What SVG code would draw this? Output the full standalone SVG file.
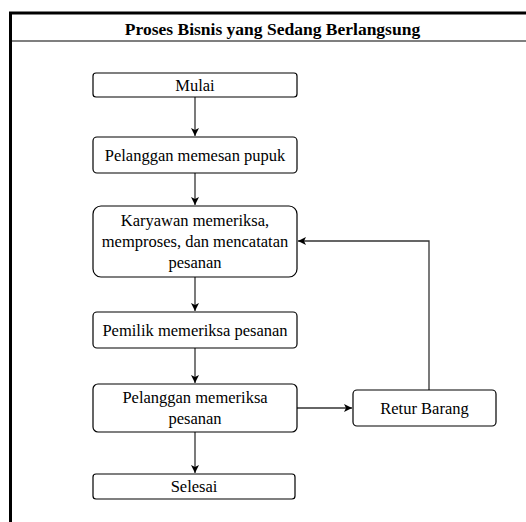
<svg xmlns="http://www.w3.org/2000/svg" width="526" height="522" viewBox="0 0 526 522">
<style>
.frame{fill:none;stroke:#000;stroke-width:3}
.div{stroke:#555;stroke-width:1.5}
.box{fill:#fff;stroke:#000;stroke-width:1.2}
.t{font-family:'Liberation Serif','DejaVu Serif',serif;font-size:16.5px;fill:#000;text-anchor:middle}
.title{font-family:'Liberation Serif','DejaVu Serif',serif;font-size:17.5px;font-weight:bold;fill:#000;text-anchor:middle}
.c{fill:none;stroke:#333;stroke-width:1.3}
</style>
<defs>
<marker id="ah" viewBox="0 0 10 10" refX="10" refY="5" markerWidth="8" markerHeight="8" markerUnits="userSpaceOnUse" orient="auto">
<path d="M0,0 L10,5 L0,10 L2.5,5 Z" fill="#000"/>
</marker>
</defs>
<rect width="526" height="522" fill="#fff"/>
<g id="frame">
<path class="frame" d="M10.5,530 V13 H540"/>
<line class="div" x1="12" y1="41" x2="526" y2="41"/>
<text class="title" x="272.5" y="35">Proses Bisnis yang Sedang Berlangsung</text>
</g>
<g id="connectors">
<line class="c" x1="195" y1="97" x2="195" y2="136" marker-end="url(#ah)"/>
<line class="c" x1="195" y1="173" x2="195" y2="205" marker-end="url(#ah)"/>
<line class="c" x1="195" y1="277" x2="195" y2="311" marker-end="url(#ah)"/>
<line class="c" x1="195" y1="348" x2="195" y2="383" marker-end="url(#ah)"/>
<line class="c" x1="195" y1="432" x2="195" y2="473" marker-end="url(#ah)"/>
<line class="c" x1="297" y1="408" x2="352" y2="408" marker-end="url(#ah)"/>
<path class="c" d="M429,390 V241 H298" marker-end="url(#ah)"/>
</g>
<g id="mulai">
<rect class="box" x="93" y="73" width="204" height="24" rx="3"/>
<text class="t" x="195" y="90.5">Mulai</text>
</g>
<g id="pesan">
<rect class="box" x="93" y="137" width="204" height="36" rx="4"/>
<text class="t" x="195" y="160.5">Pelanggan memesan pupuk</text>
</g>
<g id="karyawan">
<rect class="box" x="93" y="206" width="204" height="71" rx="8"/>
<text class="t" x="195" y="226">Karyawan memeriksa,</text>
<text class="t" x="195" y="247">memproses, dan mencatatan</text>
<text class="t" x="195" y="268">pesanan</text>
</g>
<g id="pemilik">
<rect class="box" x="93" y="312" width="204" height="36" rx="4"/>
<text class="t" x="195" y="335.5">Pemilik memeriksa pesanan</text>
</g>
<g id="periksa">
<rect class="box" x="93" y="384" width="204" height="48" rx="5"/>
<text class="t" x="195" y="403">Pelanggan memeriksa</text>
<text class="t" x="195" y="424">pesanan</text>
</g>
<g id="retur">
<rect class="box" x="353" y="390" width="143" height="36" rx="4"/>
<text class="t" x="424.5" y="413.5">Retur Barang</text>
</g>
<g id="selesai">
<rect class="box" x="93" y="474" width="202" height="25" rx="3"/>
<text class="t" x="194" y="492">Selesai</text>
</g>
</svg>
